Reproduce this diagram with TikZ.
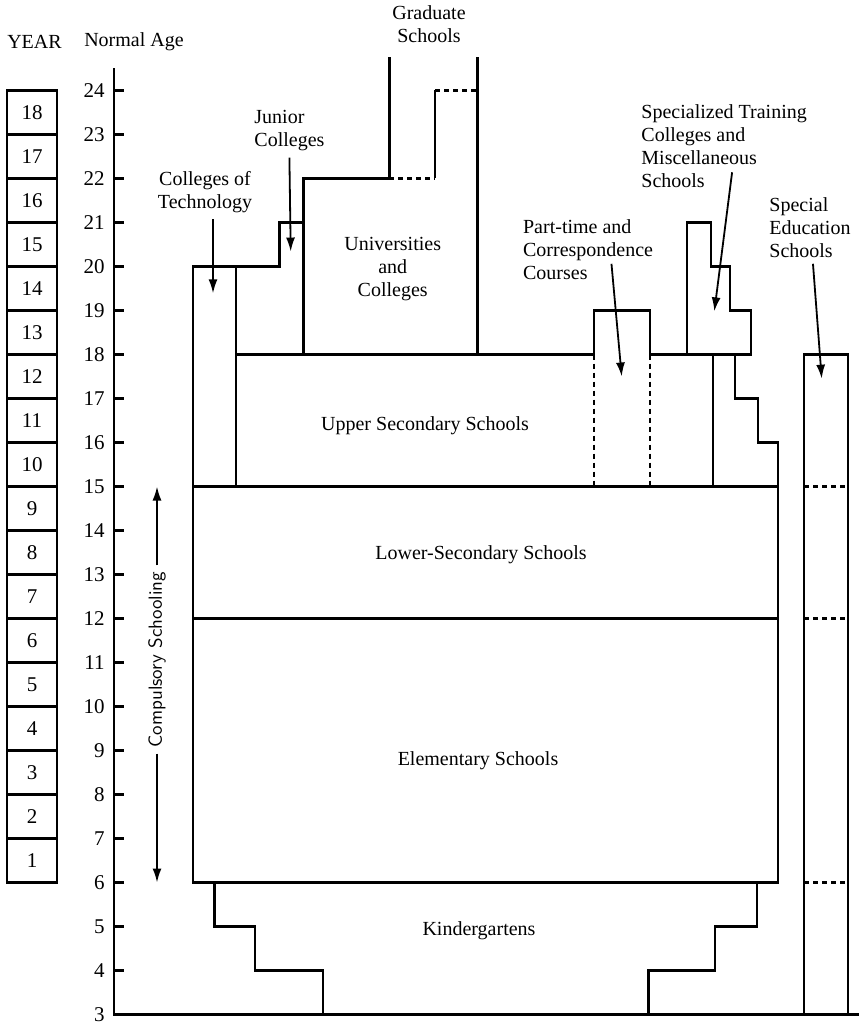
\documentclass[tikz,border=0pt]{standalone}
\usepackage{fontspec}
\setmainfont{Liberation Serif}
\usepackage{tikz}
\usetikzlibrary{arrows.meta,positioning}
\tikzstyle{frame} = [line width=1.2pt]
\tikzstyle{gap} = [line width=1.2pt,dash pattern=on 2.5pt off 2pt]
\tikzstyle{pointer} = [line width=0.9pt,-{Latex[length=7pt,width=4.5pt]}]
\tikzstyle{yearbox} = [draw,line width=1.2pt,minimum width=25pt,minimum height=22pt,inner sep=0pt,font=\fontsize{10.5}{12}\selectfont]
\tikzstyle{agenum} = [anchor=east,inner sep=0pt,font=\fontsize{10.5}{12}\selectfont]
\tikzstyle{school} = [inner sep=0pt,align=center,font=\fontsize{10}{11.5}\selectfont]
\def \tk {10}

\begin{document}
\begin{tikzpicture}[x=0.5pt,y=22pt]
\useasboundingbox (0,2.785) rectangle (859,26.057);
% headings
\node[school] (yearhead) at (34.5,25.11) {YEAR};
\node[school] (agehead) at (134,25.11) {Normal Age};
% year column
\foreach \n in {1,...,18}
  \node[yearbox] (yr\n) at (32,\n+5.5) {\n};
% age axis
\draw[frame] (114,24.5) -- (114,3) -- (859,3);
\foreach \a in {3,...,24} {
  \draw[frame] (114,\a) -- +(\tk,0);
  \node[agenum] (age\a) at (105,\a) {\a};
}
% compulsory schools
\draw[frame] (193,6) rectangle (778,15);
\draw[frame] (193,12) -- (778,12);
% kindergartens
\draw[frame] (214.6,6) -- (214.6,5) -- (255,5) -- (255,4) -- (323,4) -- (323,3);
\draw[frame] (756.7,6) -- (756.7,5) -- (715,5) -- (715,4) -- (648.6,4) -- (648.6,3);
% colleges and universities
\draw[frame] (193,15) -- (193,20) -- (279.3,20) -- (279.3,21) -- (303.3,21) -- (303.3,22) -- (389.3,22) -- (389.3,24.75);
\draw[frame] (236,20) -- (236,15);
\draw[frame] (303.3,22) -- (303.3,18);
\draw[gap] (389.3,22) -- (435,22);
\draw[frame] (435,22) -- (435,24);
\draw[gap] (435,24) -- (477.3,24);
\draw[frame] (477.3,24.75) -- (477.3,18);
% upper secondary and side schools
\draw[frame] (236,18) -- (594,18) -- (594,19) -- (650,19) -- (650,18) -- (750.7,18) -- (750.7,19) -- (730,19) -- (730,20) -- (710.7,20) -- (710.7,21) -- (686.7,21) -- (686.7,18);
\draw[gap] (594,18) -- (594,15);
\draw[gap] (650,18) -- (650,15);
\draw[frame] (713,18) -- (713,15);
\draw[frame] (735,18) -- (735,17) -- (757.7,17) -- (757.7,16) -- (778,16) -- (778,15);
% special education
\draw[frame] (804,3) rectangle (848,18);
\foreach \a in {6,12,15}
  \draw[gap] (804,\a) -- (848,\a);
% school names
\node[school] (grad) at (429,25.5) {Graduate\\Schools};
\node[school] (univ) at (392.7,19.95) {Universities\\and\\Colleges};
\node[school] (cot) at (205,21.69) {Colleges of\\Technology};
\node[school,anchor=west,align=left] (jc) at (254,23.08) {Junior\\Colleges};
\node[school,anchor=west,align=left] (ptc) at (522.7,20.39) {Part-time and\\Correspondence\\Courses};
\node[school,anchor=west,align=left] (stc) at (641,22.73) {Specialized Training\\Colleges and\\Miscellaneous\\Schools};
\node[school,anchor=west,align=left] (sed) at (769,20.89) {Special\\Education\\Schools};
\node[school] (usec) at (425,16.39) {Upper Secondary Schools};
\node[school] (lsec) at (481,13.45) {Lower-Secondary Schools};
\node[school] (elem) at (478,8.77) {Elementary Schools};
\node[school] (kind) at (479,4.91) {Kindergartens};
\node[school,rotate=90,inner sep=3pt,font=\sffamily\fontsize{9.5}{11}\selectfont] (comp) at (157,11.07) {Compulsory Schooling};
% pointers
\coordinate (cotTip) at (213,19.39);
\coordinate (jcTip) at (290.7,20.34);
\coordinate (ptcTip) at (621.7,17.5);
\coordinate (stcTip) at (714.3,18.98);
\coordinate (sedTip) at (821.7,17.45);
\coordinate (compTop) at (157,15);
\coordinate (compBot) at (157,6);
\draw[pointer] ([xshift=4pt,yshift=-3pt]cot.south) -- (cotTip);
\draw[pointer] ([yshift=-3pt]jc.south) -- (jcTip);
\draw[pointer] ([xshift=-21pt,yshift=8pt]ptc.south east) -- (ptcTip);
\draw[pointer] ([xshift=4pt,yshift=8pt]stc.south) -- (stcTip);
\draw[pointer] ([xshift=1.5pt,yshift=-3pt]sed.south) -- (sedTip);
\draw[pointer] (comp.east) -- (compTop);
\draw[pointer] (comp.west) -- (compBot);
\end{tikzpicture}
\end{document}
